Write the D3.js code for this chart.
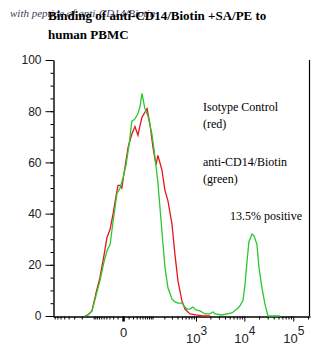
<!DOCTYPE html>
<html>
<head>
<meta charset="utf-8">
<script src="https://cdn.jsdelivr.net/npm/d3@7"></script>
<style>
  html, body { margin: 0; padding: 0; background: #fff; }
  svg { display: block; }
</style>
</head>
<body>
<script>
// ---- data (fluorescence intensity, % of max) ----
const greenX = [-168,-141,-111,-86,-66,-49,-38,-28,-20,-11,-5,0,5,11,17,25,34,41,48,60,75,97,117,139,175,207,243,300,351,409,500,582,642,744,862,998,1213,1541,1960,2261,2489,3470,4400,5570,7060,8130,9370,10290,11310,12430,13030,14320,15730,18120,19900,22930,26410,30410,36700,53500];
const greenY = [0,0.4,2,8,13.7,21,25.5,28,37,48,50,54,59,67,76,77,79,82,87,81,78,71,62,52,33,19,11,6.7,5.5,5,5,3.5,2.7,2.7,3.5,2.4,2,0.8,0.8,1.6,0.8,0.4,0.8,1.2,2.7,4,6,12,21,29,30,32,31.4,28,19,11,4.7,0,0,0];
const redX = [-168,-141,-111,-86,-66,-49,-38,-28,-20,-13,-9,-5,-2,3,9,17,25,34,41,48,60,70,85,103,124,139,175,207,243,300,351,409,500,582,744,998,1400,1960];
const redY = [0,0.4,2,9,15,23.5,30.6,34,40,47,51,51,50,58,66,71,74,70.6,74.5,77.6,79.6,81,75,66,59,62.7,57,49,45,36,24,13.7,5.9,2.7,0.8,0.4,0,0];

const yTicks = [0, 20, 40, 60, 80, 100];
const xMajorTicks = [0, 1000, 10000, 100000];
const xMajorLabels = [["0", ""], ["10", "3"], ["10", "4"], ["10", "5"]];

const titleLines = ["Binding of anti-CD14/Biotin +SA/PE to", "human PBMC"];
const ghostText = "with peptide of anti-CD14/Biotin";
const annotations = [
  {text: "Isotype Control", x: 203, y: 111},
  {text: "(red)", x: 203, y: 128},
  {text: "anti-CD14/Biotin", x: 203, y: 166},
  {text: "(green)", x: 203, y: 183},
  {text: "13.5% positive", x: 230, y: 220}
];

// ---- layout ----
const W = 334, H = 362;
const svg = d3.select("body").append("svg").attr("width", W).attr("height", H);

const x = d3.scaleSymlog().constant(33.5).domain([-870, 220000]).range([53, 310]);
const y = d3.scaleLinear().domain([0, 100]).range([316, 60]);

// minor x ticks
const xMinor = [];
[10, 100].forEach(d => { for (let k = 1; k <= 9; k++) { const v = -k * d; if (v >= -870) xMinor.push(v); } });
[10, 100, 1000, 10000, 100000].forEach(d => { for (let k = 1; k <= 9; k++) { const v = k * d; if (v <= 220000 && !xMajorTicks.includes(v)) xMinor.push(v); } });

// title (ghost italic text beneath, bold on top)
svg.append("text").attr("x", 10).attr("y", 17)
  .attr("font-family", "Liberation Serif, Times New Roman, serif")
  .attr("font-style", "italic").attr("font-size", 11).attr("fill", "#3a3f5a")
  .text(ghostText);
svg.append("text").attr("x", 48).attr("y", 20)
  .attr("font-family", "Liberation Serif, Times New Roman, serif")
  .attr("font-weight", "bold").attr("font-size", 13).attr("fill", "#000")
  .selectAll("tspan").data(titleLines).join("tspan")
  .attr("x", 48).attr("dy", (d, i) => i === 0 ? 0 : 19)
  .text(d => d);

// right border
svg.append("line").attr("x1", 309.5).attr("x2", 309.5).attr("y1", y(100)).attr("y2", y(0))
  .attr("stroke", "#000").attr("stroke-width", 1.2);

// y axis
const yMinorAxis = svg.append("g").attr("transform", "translate(53.5,0)")
  .call(d3.axisLeft(y).tickValues(d3.range(0, 101, 5)).tickSize(3).tickFormat(""));
yMinorAxis.select(".domain").remove();
const yAxis = svg.append("g").attr("transform", "translate(53.5,0)")
  .call(d3.axisLeft(y).tickValues(yTicks).tickSize(8).tickSizeOuter(0).tickPadding(4));
yAxis.selectAll("text").attr("font-family", "Liberation Sans, Arial, sans-serif")
  .attr("font-size", 12).attr("fill", "#222");
yAxis.select(".domain").attr("stroke-width", 1.4);

// x axis
svg.append("g").attr("transform", "translate(0,316.5)")
  .call(d3.axisBottom(x).tickValues(xMinor).tickSize(3).tickFormat("").tickSizeOuter(0))
  .select(".domain").remove();
const xAxis = svg.append("g").attr("transform", "translate(0,316.5)")
  .call(d3.axisBottom(x).tickValues(xMajorTicks).tickSize(5).tickSizeOuter(0).tickFormat(""));
xAxis.select(".domain").attr("stroke-width", 1.4);
xAxis.selectAll(".tick line").attr("stroke-width", (d) => d === 0 ? 2.5 : 1);
xAxis.selectAll(".tick").each(function(d, i) {
  const lab = xMajorLabels[i];
  const t = d3.select(this).append("text")
    .attr("font-family", "Liberation Sans, Arial, sans-serif")
    .attr("font-size", 13).attr("fill", "#222")
    .attr("text-anchor", "middle")
    .attr("y", i === 0 ? 20 : 26);
  t.append("tspan").text(lab[0]);
  if (lab[1]) t.append("tspan").attr("dy", -8).attr("font-size", 12).text(lab[1]);
});

// curves
const line = d3.line().x(d => x(d[0])).y(d => y(d[1]));
svg.append("path").datum(redX.map((v, i) => [v, redY[i]]))
  .attr("d", line).attr("fill", "none").attr("stroke", "#e3161e").attr("stroke-width", 1.3);
svg.append("path").datum(greenX.map((v, i) => [v, greenY[i]]))
  .attr("d", line).attr("fill", "none").attr("stroke", "#2cc72c").attr("stroke-width", 1.3);

// annotations
svg.append("g").selectAll("text").data(annotations).join("text")
  .attr("x", d => d.x).attr("y", d => d.y)
  .attr("font-family", "Liberation Serif, Times New Roman, serif")
  .attr("font-size", 12).attr("fill", "#000")
  .text(d => d.text);
</script>
</body>
</html>
